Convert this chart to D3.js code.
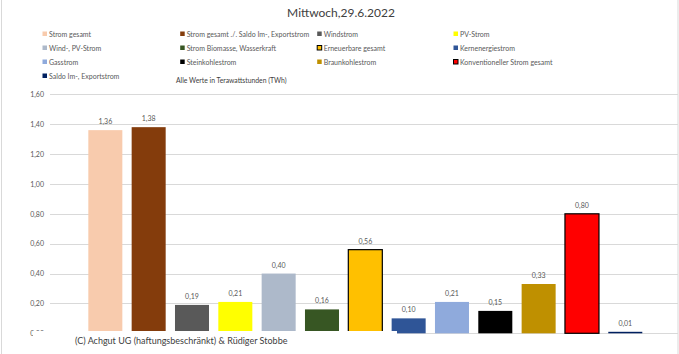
<!DOCTYPE html>
<html>
<head>
<meta charset="utf-8">
<script src="https://cdn.jsdelivr.net/npm/d3@7"></script>
<style>
  body { margin: 0; background: #fff; }
  svg { display: block; font-family: Lato, "Open Sans", sans-serif; }
</style>
</head>
<body>
<div id="chart"></div>
<script>
// Kategorien (Serien) und Werte in TWh
const categories = [
    "Strom gesamt",
    "Strom gesamt ./. Saldo Im-, Exportstrom",
    "Windstrom",
    "PV-Strom",
    "Wind-, PV-Strom",
    "Strom Biomasse, Wasserkraft",
    "Erneuerbare gesamt",
    "Kernenergiestrom",
    "Gasstrom",
    "Steinkohlestrom",
    "Braunkohlestrom",
    "Konventioneller Strom gesamt",
    "Saldo Im-, Exportstrom"
];
const values = [1.36, 1.38, 0.19, 0.21, 0.40, 0.16, 0.56, 0.10, 0.21, 0.15, 0.33, 0.80, 0.01];
const colors = ["#F8CBAD", "#843C0C", "#595959", "#FFFF00", "#ADB9CA", "#375623", "#FFC000",
                "#2F5597", "#8FAADC", "#000000", "#BF9000", "#FF0000", "#002060"];
const outlined = ["Erneuerbare gesamt", "Konventioneller Strom gesamt"];
const yTicks = [0, 0.2, 0.4, 0.6, 0.8, 1.0, 1.2, 1.4, 1.6];
// Legende: Reihenfolge zeilenweise, 4 Spalten
const legendOrder = [
    "Strom gesamt", "Strom gesamt ./. Saldo Im-, Exportstrom", "Windstrom", "PV-Strom",
    "Wind-, PV-Strom", "Strom Biomasse, Wasserkraft", "Erneuerbare gesamt", "Kernenergiestrom",
    "Gasstrom", "Steinkohlestrom", "Braunkohlestrom", "Konventioneller Strom gesamt",
    "Saldo Im-, Exportstrom"
];

const width = 679, height = 354;
const de = d3.formatLocale({decimal: ",", thousands: ".", grouping: [3], currency: ["", " €"]});
const fmt = de.format(".2f");

const svg = d3.select("#chart").append("svg")
    .attr("width", width)
    .attr("height", height);

// Rahmen
svg.append("rect")
    .attr("x", 1.5).attr("y", -2)
    .attr("width", width - 2.5).attr("height", height + 4)
    .attr("fill", "none").attr("stroke", "#d9d9d9");

// Titel
svg.append("text")
    .attr("x", 341).attr("y", 17)
    .attr("text-anchor", "middle")
    .attr("font-size", 12)
    .attr("fill", "#404040")
    .text("Mittwoch,29.6.2022");

// Legende
const legendX = [42, 179.7, 316.7, 453];
const legendY = [34, 48, 62, 76];
const leg = svg.append("g").selectAll("g")
    .data(legendOrder)
    .join("g")
    .attr("transform", (d, i) => `translate(${legendX[i % 4]},${legendY[Math.floor(i / 4)]})`);

leg.append("rect")
    .attr("x", 0.5).attr("y", -2.5)
    .attr("width", 4.5).attr("height", 4.5)
    .attr("fill", d => colors[categories.indexOf(d)])
    .attr("stroke", d => outlined.includes(d) ? "#000" : "none")
    .attr("stroke-width", 1);

leg.append("text")
    .attr("x", 7).attr("y", 2.5)
    .attr("font-size", 7)
    .attr("fill", "#595959")
    .text(d => d);

svg.append("text")
    .attr("x", 176).attr("y", 82.5)
    .attr("font-size", 6.8)
    .attr("fill", "#404040")
    .text("Alle Werte in Terawattstunden (TWh)");

// Skalen
const y = d3.scaleLinear()
    .domain([0, 1.6])
    .range([333.3, 94.3]);

const x = d3.scaleBand()
    .domain(categories)
    .range([83.67, 83.67 + 13 * 43.33])
    .paddingInner(0.215)
    .paddingOuter(0.1075);

// Gitterlinien
svg.append("g")
    .selectAll("line")
    .data(yTicks)
    .join("line")
    .attr("x1", 50).attr("x2", 678)
    .attr("y1", d => Math.round(y(d)) + 0.5)
    .attr("y2", d => Math.round(y(d)) + 0.5)
    .attr("stroke", "#d9d9d9")
    .attr("stroke-width", 1);

// Y-Achse
const yAxis = svg.append("g")
    .attr("transform", "translate(50,0)")
    .call(d3.axisLeft(y).tickValues(yTicks).tickFormat(fmt).tickSize(0).tickPadding(6));
yAxis.select(".domain").remove();
yAxis.selectAll("text")
    .attr("font-family", "Lato, 'Open Sans', sans-serif")
    .attr("font-size", 7)
    .attr("fill", "#595959");

// Balken
svg.append("g")
    .selectAll("rect")
    .data(values)
    .join("rect")
    .attr("x", (d, i) => x(categories[i]))
    .attr("y", d => y(d))
    .attr("width", x.bandwidth())
    .attr("height", d => y(0) - y(d))
    .attr("fill", (d, i) => colors[i])
    .attr("stroke", (d, i) => outlined.includes(categories[i]) ? "#000" : "none")
    .attr("stroke-width", 1.2);

// Datenbeschriftungen
svg.append("g")
    .selectAll("text")
    .data(values)
    .join("text")
    .attr("x", (d, i) => x(categories[i]) + x.bandwidth() / 2)
    .attr("y", d => y(d) - 6)
    .attr("text-anchor", "middle")
    .attr("font-size", 7)
    .attr("fill", "#595959")
    .text(d => fmt(d));

// Copyright-Textfeld (überdeckt den Fuß der Balken)
svg.append("rect")
    .attr("x", 33).attr("y", 331)
    .attr("width", 364).attr("height", 20)
    .attr("fill", "#fff");

svg.append("text")
    .attr("x", 75).attr("y", 344)
    .attr("font-size", 9)
    .attr("fill", "#404040")
    .text("(C) Achgut UG (haftungsbeschränkt) & Rüdiger Stobbe");
</script>
</body>
</html>
